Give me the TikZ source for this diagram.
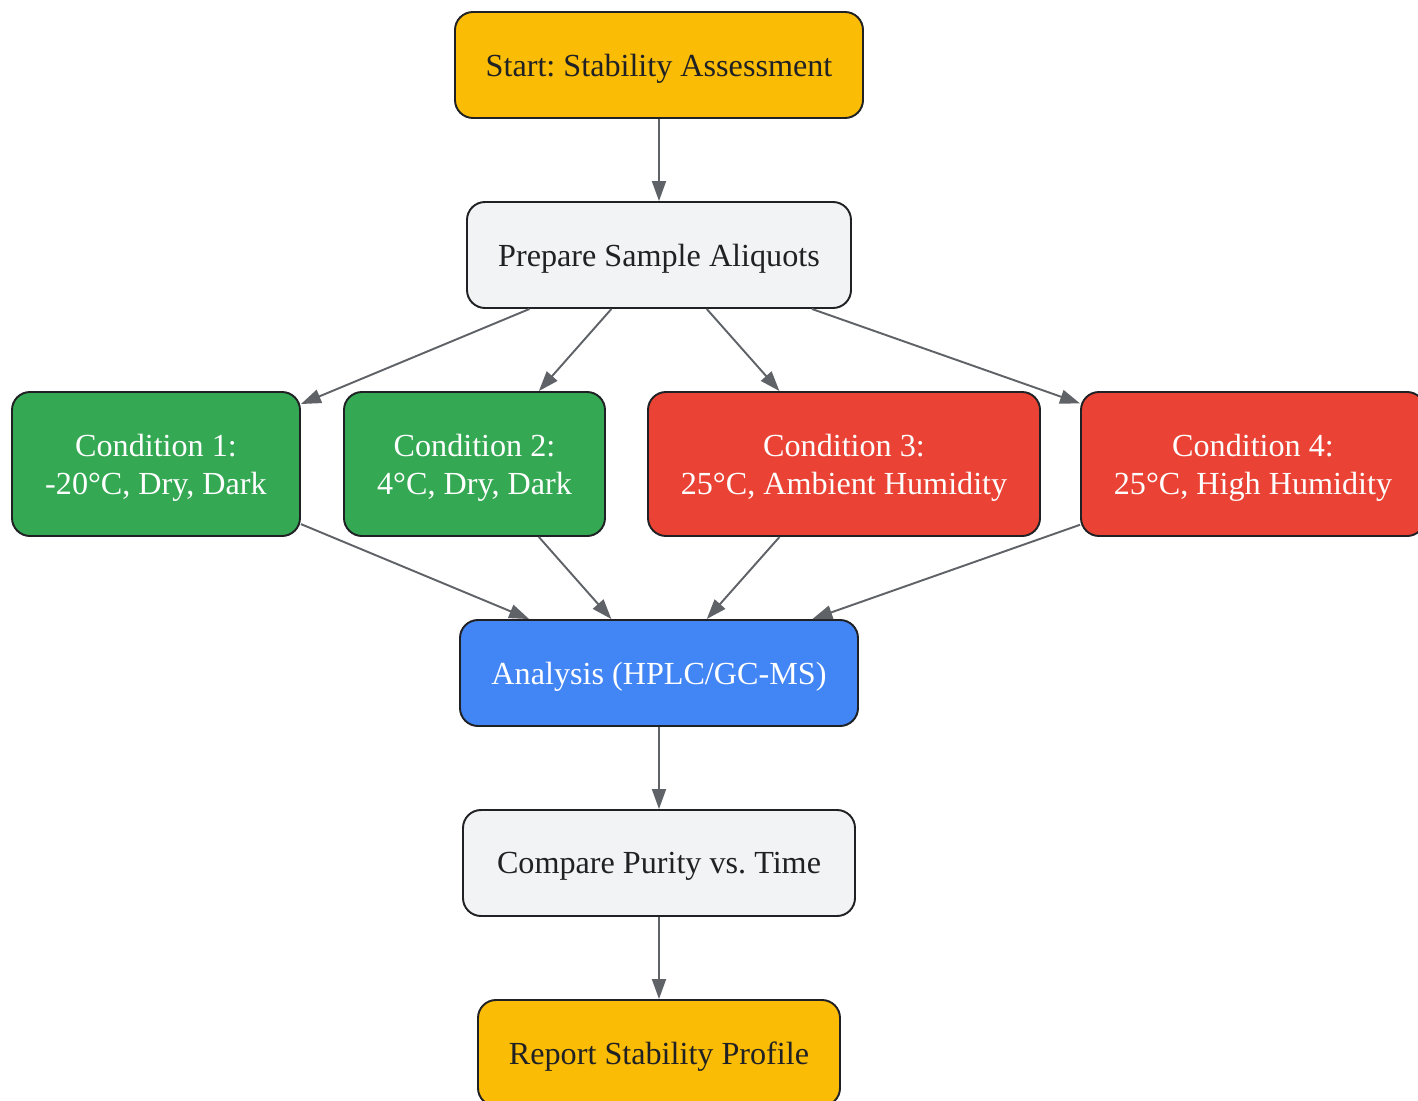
\documentclass[tikz,border=0pt]{standalone}
\usepackage{fontspec}
\setmainfont{Liberation Serif}
\usetikzlibrary{shapes,arrows.meta}
\usepackage{xcolor}
\frenchspacing
\definecolor{startyellow}{HTML}{FBBC05}
\definecolor{lightgray}{HTML}{F1F3F4}
\definecolor{coldgreen}{HTML}{34A853}
\definecolor{warmred}{HTML}{EA4335}
\definecolor{analysisblue}{HTML}{4285F4}
\definecolor{textdark}{HTML}{202124}
\definecolor{arrowgray}{HTML}{5F6368}
\tikzstyle{block} = [rectangle, draw=textdark, line width=1.1pt, rounded corners=0.36cm,
    minimum height=2.12cm, align=center, inner sep=0pt, text depth=0pt,
    font=\fontsize{18.3}{21.8}\selectfont]
\tikzstyle{term} = [block, fill=startyellow, text=textdark]
\tikzstyle{stepbox} = [block, fill=lightgray, text=textdark]
\tikzstyle{cold} = [block, fill=coldgreen, text=white, minimum height=2.88cm]
\tikzstyle{warm} = [block, fill=warmred, text=white, minimum height=2.88cm]
\tikzstyle{analyse} = [block, fill=analysisblue, text=white]
\tikzstyle{arrow} = [line width=1.1pt, draw=arrowgray, -{Triangle[length=0.4cm, width=0.28cm]}]

\begin{document}
\begin{tikzpicture}[node distance = 3.8cm, auto]
    \useasboundingbox (0,0) rectangle (28.36,-22.02);
    % Place nodes
    \node [term, minimum width=8.16cm] (start) at (13.18,-1.30) {Start: Stability Assessment};
    \node [stepbox, below of=start, minimum width=7.68cm] (prepare) {Prepare Sample Aliquots};
    \node [cold, below of=prepare, node distance=4.18cm, xshift=-10.06cm, minimum width=5.76cm] (cond1) {Condition 1:\\-20°C, Dry, Dark};
    \node [cold, below of=prepare, node distance=4.18cm, xshift=-3.69cm, minimum width=5.22cm] (cond2) {Condition 2:\\4°C, Dry, Dark};
    \node [warm, below of=prepare, node distance=4.18cm, xshift=3.70cm, minimum width=7.84cm] (cond3) {Condition 3:\\25°C, Ambient Humidity};
    \node [warm, below of=prepare, node distance=4.18cm, xshift=11.88cm, minimum width=6.88cm] (cond4) {Condition 4:\\25°C, High Humidity};
    \node [analyse, below of=prepare, node distance=8.36cm, minimum width=7.96cm] (analysis) {Analysis (HPLC/GC-MS)};
    \node [stepbox, below of=analysis, minimum width=7.84cm] (compare) {Compare Purity vs. Time};
    \node [term, below of=compare, minimum width=7.24cm] (report) {Report Stability Profile};
    % Draw edges
    \draw [arrow] (start) -- (prepare);
    \draw [arrow] (prepare) -- (cond1);
    \draw [arrow] (prepare) -- (cond2);
    \draw [arrow] (prepare) -- (cond3);
    \draw [arrow] (prepare) -- (cond4);
    \draw [arrow] (cond1) -- (analysis);
    \draw [arrow] (cond2) -- (analysis);
    \draw [arrow] (cond3) -- (analysis);
    \draw [arrow] (cond4) -- (analysis);
    \draw [arrow] (analysis) -- (compare);
    \draw [arrow] (compare) -- (report);
\end{tikzpicture}
\end{document}
